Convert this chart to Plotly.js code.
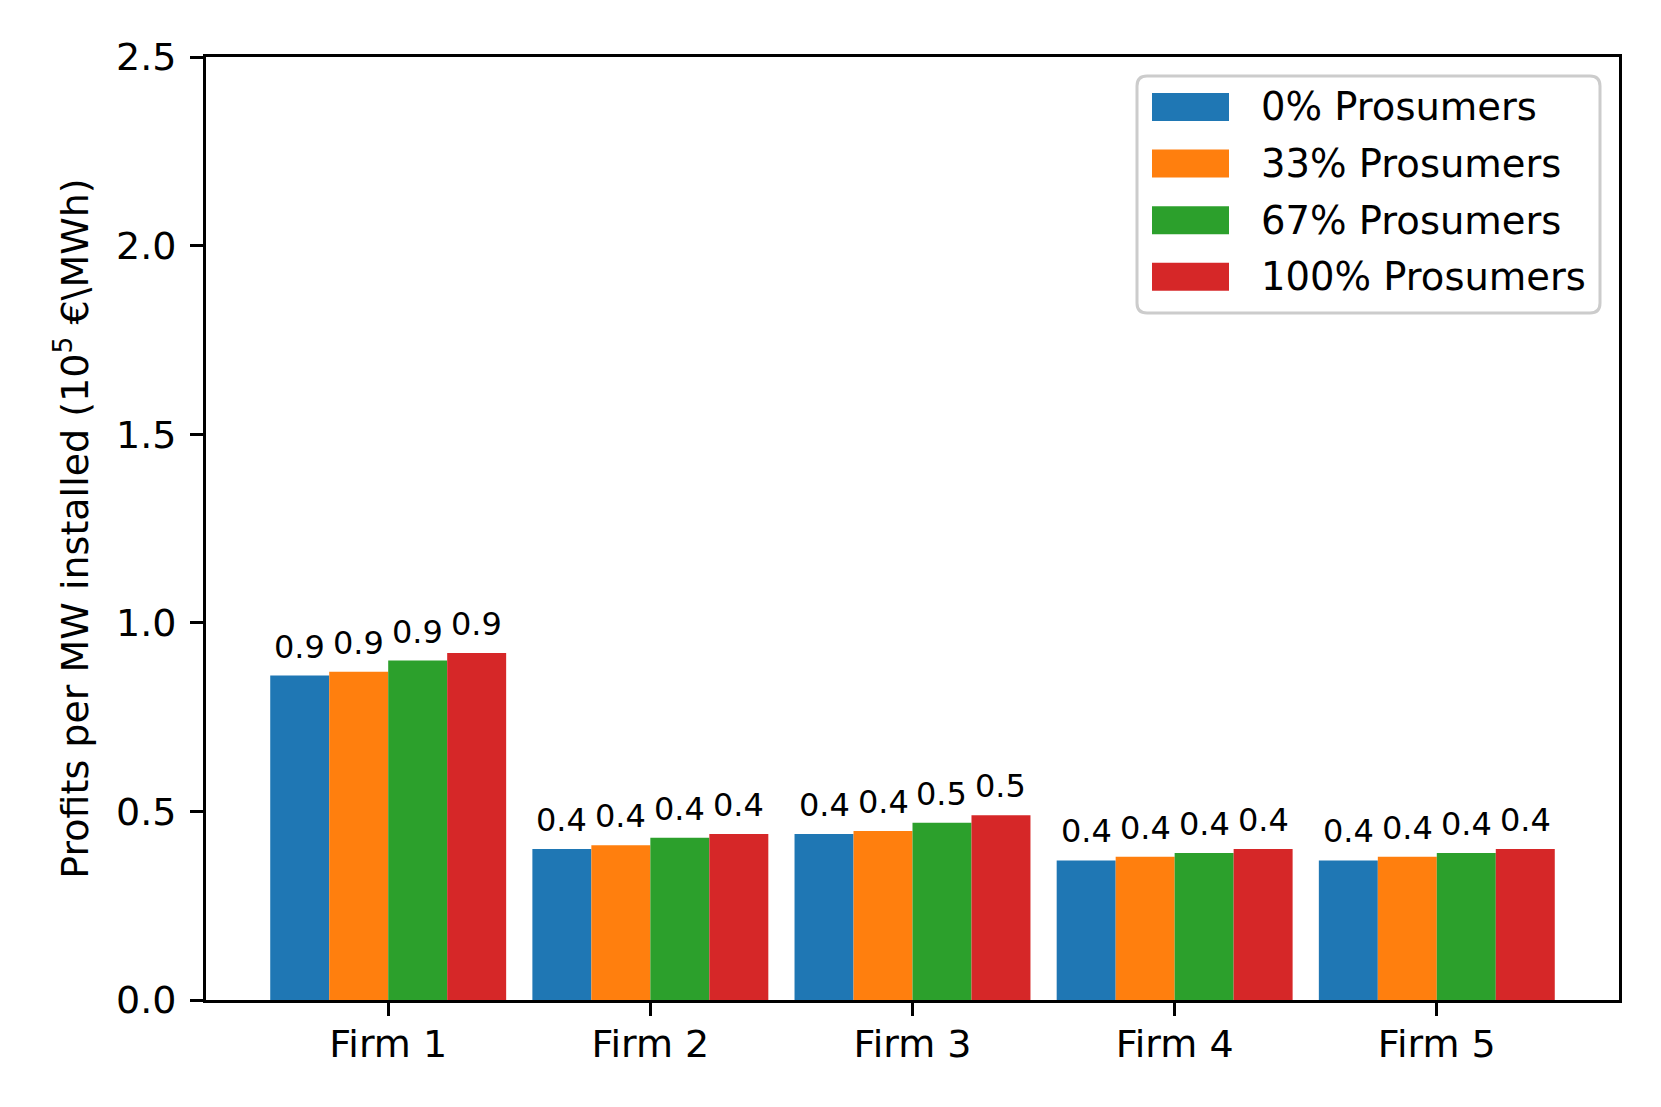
<!DOCTYPE html>
<html>
<head>
<meta charset="utf-8">
<script src="https://cdn.plot.ly/plotly-3.0.1.min.js"></script>
<style>html,body{margin:0;padding:0;background:#fff;}#chart{width:1661px;height:1107px;}</style>
</head>
<body>
<div id="chart"></div>
<script>
const categories = ["Firm 1", "Firm 2", "Firm 3", "Firm 4", "Firm 5"];
const seriesNames = ["0% Prosumers", "33% Prosumers", "67% Prosumers", "100% Prosumers"];
const prosumers0 = [0.86, 0.40, 0.44, 0.37, 0.37];
const prosumers33 = [0.87, 0.41, 0.448, 0.38, 0.38];
const prosumers67 = [0.90, 0.43, 0.47, 0.39, 0.39];
const prosumers100 = [0.92, 0.44, 0.49, 0.40, 0.40];
const yTicks = [0, 0.5, 1.0, 1.5, 2.0, 2.5];
const colors = ["#1f77b4", "#ff7f0e", "#2ca02c", "#d62728"];

const series = [prosumers0, prosumers33, prosumers67, prosumers100];

const W = 1661, H = 1107;
const M = {l: 206, r: 42, t: 57, b: 107};
const plotW = W - M.l - M.r, plotH = H - M.t - M.b;
const px = x => (x - M.l) / plotW;
const py = y => (H - M.b - y) / plotH;

const groupWidth = 0.9;
const barW = groupWidth / series.length;

const traces = series.map((vals, j) => ({
  type: "bar",
  name: seriesNames[j],
  x: categories,
  y: vals,
  marker: {color: colors[j], line: {width: 0}},
  showlegend: false,
  hoverinfo: "x+y+name"
}));

const annotations = [];
series.forEach((vals, j) => {
  const off = -groupWidth / 2 + barW * (j + 0.5);
  vals.forEach((v, i) => {
    annotations.push({
      x: i + off, y: v, xref: "x", yref: "y",
      text: v.toFixed(1), showarrow: false,
      xanchor: "center", yanchor: "bottom", yshift: 8,
      font: {size: 32, color: "#000", family: "DejaVu Sans"}
    });
  });
});

// custom legend
const shapes = [];
const lx0 = px(1137), lx1 = px(1600), ly0 = py(313), ly1 = py(76);
const rx = 10 / plotW, ry = 10 / plotH;
shapes.push({
  type: "path", xref: "paper", yref: "paper",
  path: `M ${lx0 + rx},${ly1} L ${lx1 - rx},${ly1} Q ${lx1},${ly1} ${lx1},${ly1 - ry} L ${lx1},${ly0 + ry} Q ${lx1},${ly0} ${lx1 - rx},${ly0} L ${lx0 + rx},${ly0} Q ${lx0},${ly0} ${lx0},${ly0 + ry} L ${lx0},${ly1 - ry} Q ${lx0},${ly1} ${lx0 + rx},${ly1} Z`,
  line: {color: "#cccccc", width: 3},
  fillcolor: "rgba(255,255,255,0.8)",
  layer: "above"
});
seriesNames.forEach((name, j) => {
  const cy = 107 + 56.6 * j;
  shapes.push({
    type: "rect", xref: "paper", yref: "paper",
    x0: px(1152), x1: px(1229), y0: py(cy + 14), y1: py(cy - 14),
    fillcolor: colors[j], line: {width: 0}, layer: "above"
  });
  annotations.push({
    x: px(1259), y: py(cy), xref: "paper", yref: "paper",
    text: name, showarrow: false, xanchor: "left", yanchor: "middle",
    font: {size: 38.5, color: "#000", family: "DejaVu Sans"}
  });
});

const layout = {
  width: W, height: H,
  margin: M,
  paper_bgcolor: "#fff", plot_bgcolor: "#fff",
  font: {family: "DejaVu Sans", size: 38, color: "#000"},
  barmode: "group", bargap: 0.1, bargroupgap: 0,
  showlegend: false,
  xaxis: {
    type: "category",
    range: [-0.695, 4.695],
    showline: true, mirror: true, linecolor: "#000", linewidth: 3,
    ticks: "outside", ticklen: 13, tickwidth: 3, tickcolor: "#000",
    ticklabelstandoff: -5,
    showgrid: false, zeroline: false,
    tickfont: {size: 38, family: "DejaVu Sans", color: "#000"}
  },
  yaxis: {
    range: [0, 2.5],
    tickvals: yTicks,
    ticktext: yTicks.map(v => v.toFixed(1)),
    showline: true, mirror: true, linecolor: "#000", linewidth: 3,
    ticks: "outside", ticklen: 13, tickwidth: 3, tickcolor: "#000",
    ticklabelstandoff: 6,
    showgrid: false, zeroline: false,
    tickfont: {size: 38, family: "DejaVu Sans", color: "#000"},
    title: {
      text: "Profits per MW installed (10<sup>5</sup> €\\MWh)",
      font: {size: 38, family: "DejaVu Sans", color: "#000"},
      standoff: 16
    }
  },
  annotations: annotations,
  shapes: shapes
};

Plotly.newPlot("chart", traces, layout, {displayModeBar: false, staticPlot: true});
</script>
</body>
</html>
